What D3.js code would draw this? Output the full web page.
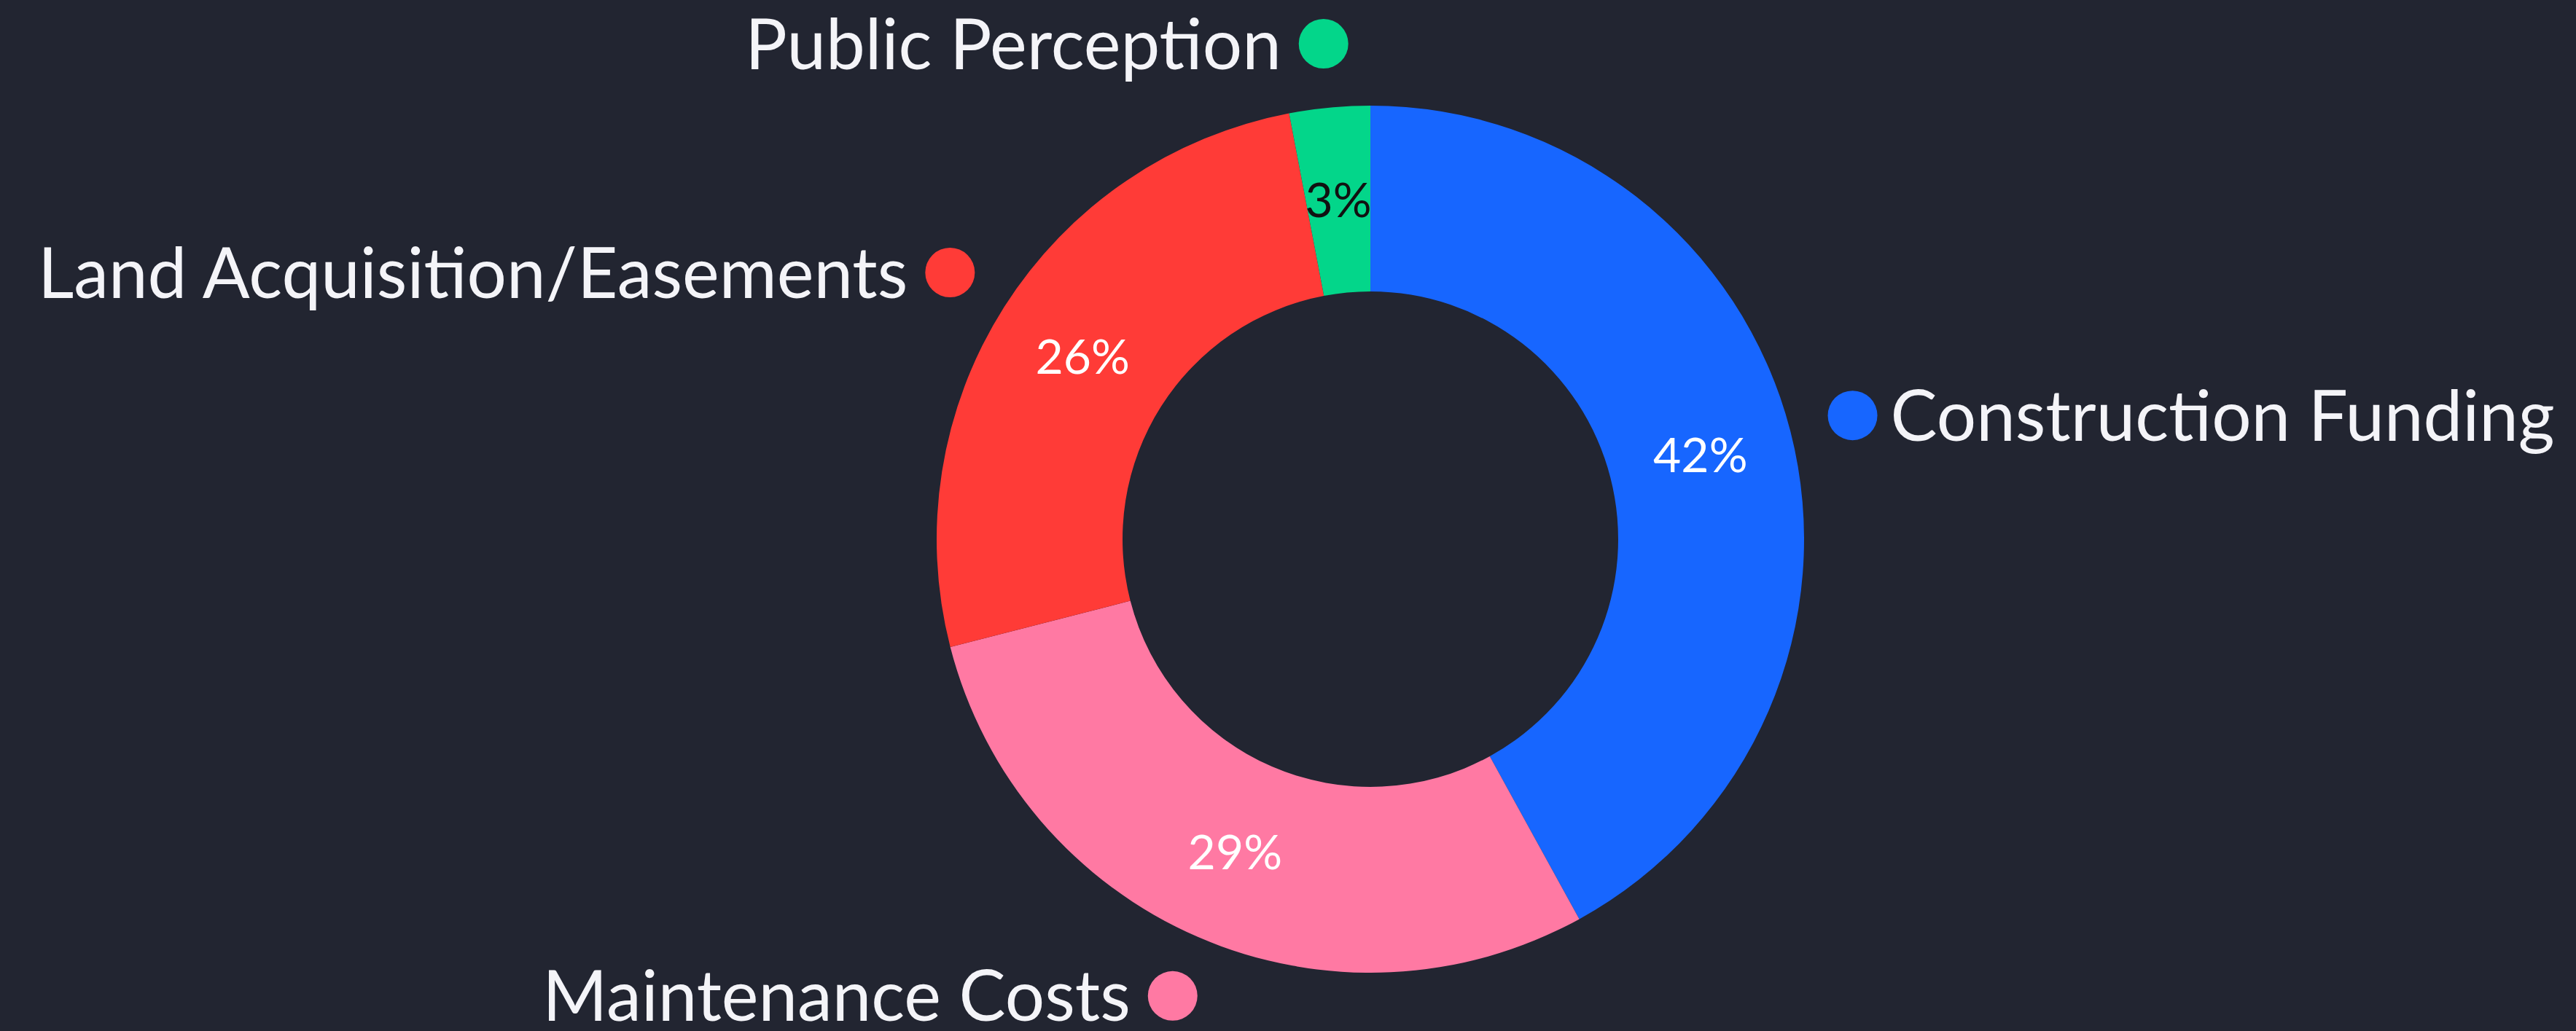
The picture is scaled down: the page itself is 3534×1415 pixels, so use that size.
<!DOCTYPE html>
<html lang="en">
<head>
	<meta charset="utf-8">
	<title> Donut Chart </title>
	<script src="https://d3js.org/d3.v7.min.js"></script>
	<style type="text/css">
		html, body{
			margin: 0;
			padding: 0;
			background-color: #222531;
			overflow: hidden;
		}
		svg{
			display: block;
			background-color: #222531;
		}
	</style>
</head>

<body>
	<svg id="placeholder1"></svg>

	<script type="text/javascript">

	// Data, clockwise from 12 o'clock
	var categories = ["Construction Funding", "Maintenance Costs", "Land Acquisition/Easements", "Public Perception"]
	var shares = [42, 29, 26, 3]
	var colorList = ["#1766ff", "#ff79a3", "#ff3b37", "#03d68a"]
	var labelInk = ["#ffffff", "#ffffff", "#ffffff", "#111111"]

	// Window size
	windowW = 3534
	windowH = 1415
	cx = 1880
	cy = 740
	outerR = 595
	innerR = 340
	dotR = 34
	dotRing = 683

	var fontFam = "Lato, 'Open Sans', sans-serif"

	data = categories.map((c, i) => ({name: c, value: shares[i], color: colorList[i], ink: labelInk[i]}))

	var svg = d3.select("#placeholder1")
				.attr("width", windowW)
				.attr("height", windowH)

	var g = svg.append("g")
				.attr("transform", "translate(" + cx + "," + cy + ")")

	pie = d3.pie()
			.value(d => d.value)
			.sort(null)

	arc = d3.arc()
			.innerRadius(innerR)
			.outerRadius(outerR)

	arcs = pie(data)

	// draw slices
	g.append("g")
		.selectAll("path")
		.data(arcs)
		.join("path")
		.attr("fill", d => d.data.color)
		.attr("d", arc)

	// percent labels
	g.append("g")
		.selectAll("text")
		.data(arcs)
		.join("text")
		.attr("transform", d => "translate(" + arc.centroid(d) + ")")
		.attr("text-anchor", "middle")
		.attr("dy", "0.36em")
		.attr("fill", d => d.data.ink)
		.style("font-family", fontFam)
		.style("font-size", "66px")
		.text(d => d.data.value + "%")

	// outside legend: dot + name
	var midAng = d => (d.startAngle + d.endAngle) / 2
	var ptX = d => dotRing * Math.sin(midAng(d))
	var ptY = d => -dotRing * Math.cos(midAng(d))

	var outer = g.append("g")
		.selectAll("g")
		.data(arcs)
		.join("g")
		.attr("transform", d => "translate(" + ptX(d) + "," + ptY(d) + ")")

	outer.append("circle")
		.attr("r", dotR)
		.attr("fill", d => d.data.color)

	outer.append("text")
		.attr("x", d => midAng(d) < Math.PI ? dotR + 18 : -(dotR + 24))
		.attr("dy", "0.36em")
		.attr("text-anchor", d => midAng(d) < Math.PI ? "start" : "end")
		.attr("fill", "#f4f4f8")
		.style("font-family", fontFam)
		.style("font-size", "96px")
		.text(d => d.data.name)

	</script>
</body>
</html>
